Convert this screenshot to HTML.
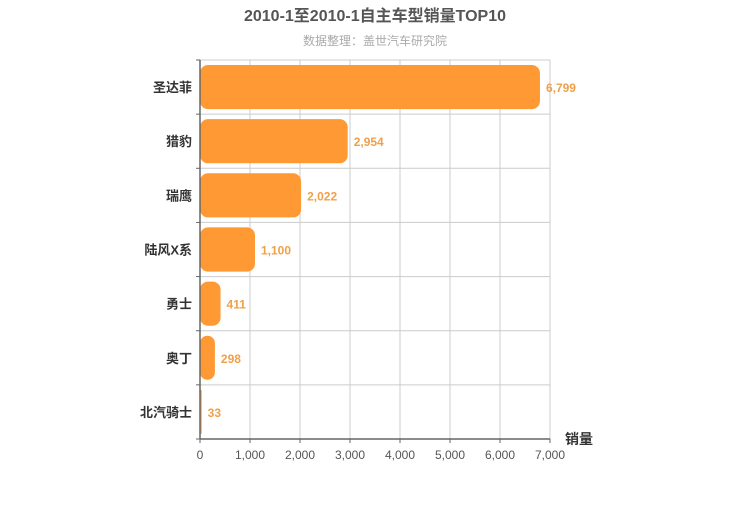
<!DOCTYPE html>
<html><head><meta charset="utf-8"><style>
body{margin:0;background:#fff;}
svg text{font-family:"Liberation Sans","Noto Sans CJK SC",sans-serif;}
</style></head><body>
<svg width="750" height="500">
<text x="375" y="21" text-anchor="middle" font-size="16" font-weight="bold" fill="#555">2010-1至2010-1自主车型销量TOP10</text>
<text x="375" y="45" text-anchor="middle" font-size="12" fill="#aaa">数据整理：盖世汽车研究院</text>
<g id="grid"></g>
<g id="bars"></g>
<g id="axes"></g>
<text x="565" y="444" font-size="14" font-weight="bold" fill="#333">销量</text>
</svg>
<script>
const categories=["圣达菲","猎豹","瑞鹰","陆风X系","勇士","奥丁","北汽骑士"];
const values=[6799,2954,2022,1100,411,298,33];
const xTicks=[0,1000,2000,3000,4000,5000,6000,7000];
const xMax=7000;
const L=200,R=550,T=60,B=439;
const ns="http://www.w3.org/2000/svg";
const xs=v=>L+(R-L)*v/xMax;
const band=(B-T)/categories.length;
const ys=i=>T+band*i;
function mk(tag,attrs,parent){const e=document.createElementNS(ns,tag);for(const k in attrs)e.setAttribute(k,attrs[k]);document.getElementById(parent).appendChild(e);return e;}
xTicks.forEach((t,i)=>{
  if(i>0){const g=mk('line',{x1:xs(t),x2:xs(t),y1:T,y2:B,stroke:'#ccc','stroke-width':1},'grid');
  
  }
  const tk=mk('line',{x1:xs(t),x2:xs(t),y1:B,y2:B+4,stroke:'#666'},'axes');
  
  
  const tx=mk('text',{x:xs(t),y:B+20,'text-anchor':'middle','font-size':12,fill:'#555'},'axes');
  tx.textContent=t.toLocaleString('en-US');
  
  
});
for(let i=0;i<=categories.length;i++){
  const y=ys(i);
  if(i<categories.length){const g=mk('line',{x1:L,x2:R,y1:y,y2:y,stroke:'#ccc'},'grid');
  
  }
  const tk=mk('line',{x1:L-4,x2:L,y1:y,y2:y,stroke:'#666'},'axes');
  
  
}
categories.forEach((c,i)=>{
  const y0=ys(i)+5,h=band-10,w=xs(values[i])-L;
  const r=Math.min(8,w/2);
  const b=mk('rect',{x:L,y:y0,width:w,height:h,rx:r,ry:r,fill:'#ff9933'},'bars');
  
  
  const vl=mk('text',{x:xs(values[i])+6,y:ys(i)+band/2+5,'font-size':12,'font-weight':'bold',fill:'#f0a048'},'bars');
  vl.textContent=values[i].toLocaleString('en-US');
  
  
  const cl=mk('text',{x:L-8,y:ys(i)+band/2+5,'text-anchor':'end','font-size':13,'font-weight':'bold',fill:'#333'},'axes');
  cl.textContent=c;
  
  
});
const ax=mk('line',{x1:L,x2:R,y1:B,y2:B,stroke:'#666','stroke-width':1.5},'axes');


const ay=mk('line',{x1:L,x2:L,y1:T,y2:B,stroke:'#666','stroke-width':1.5},'axes');


</script>
</body></html>
